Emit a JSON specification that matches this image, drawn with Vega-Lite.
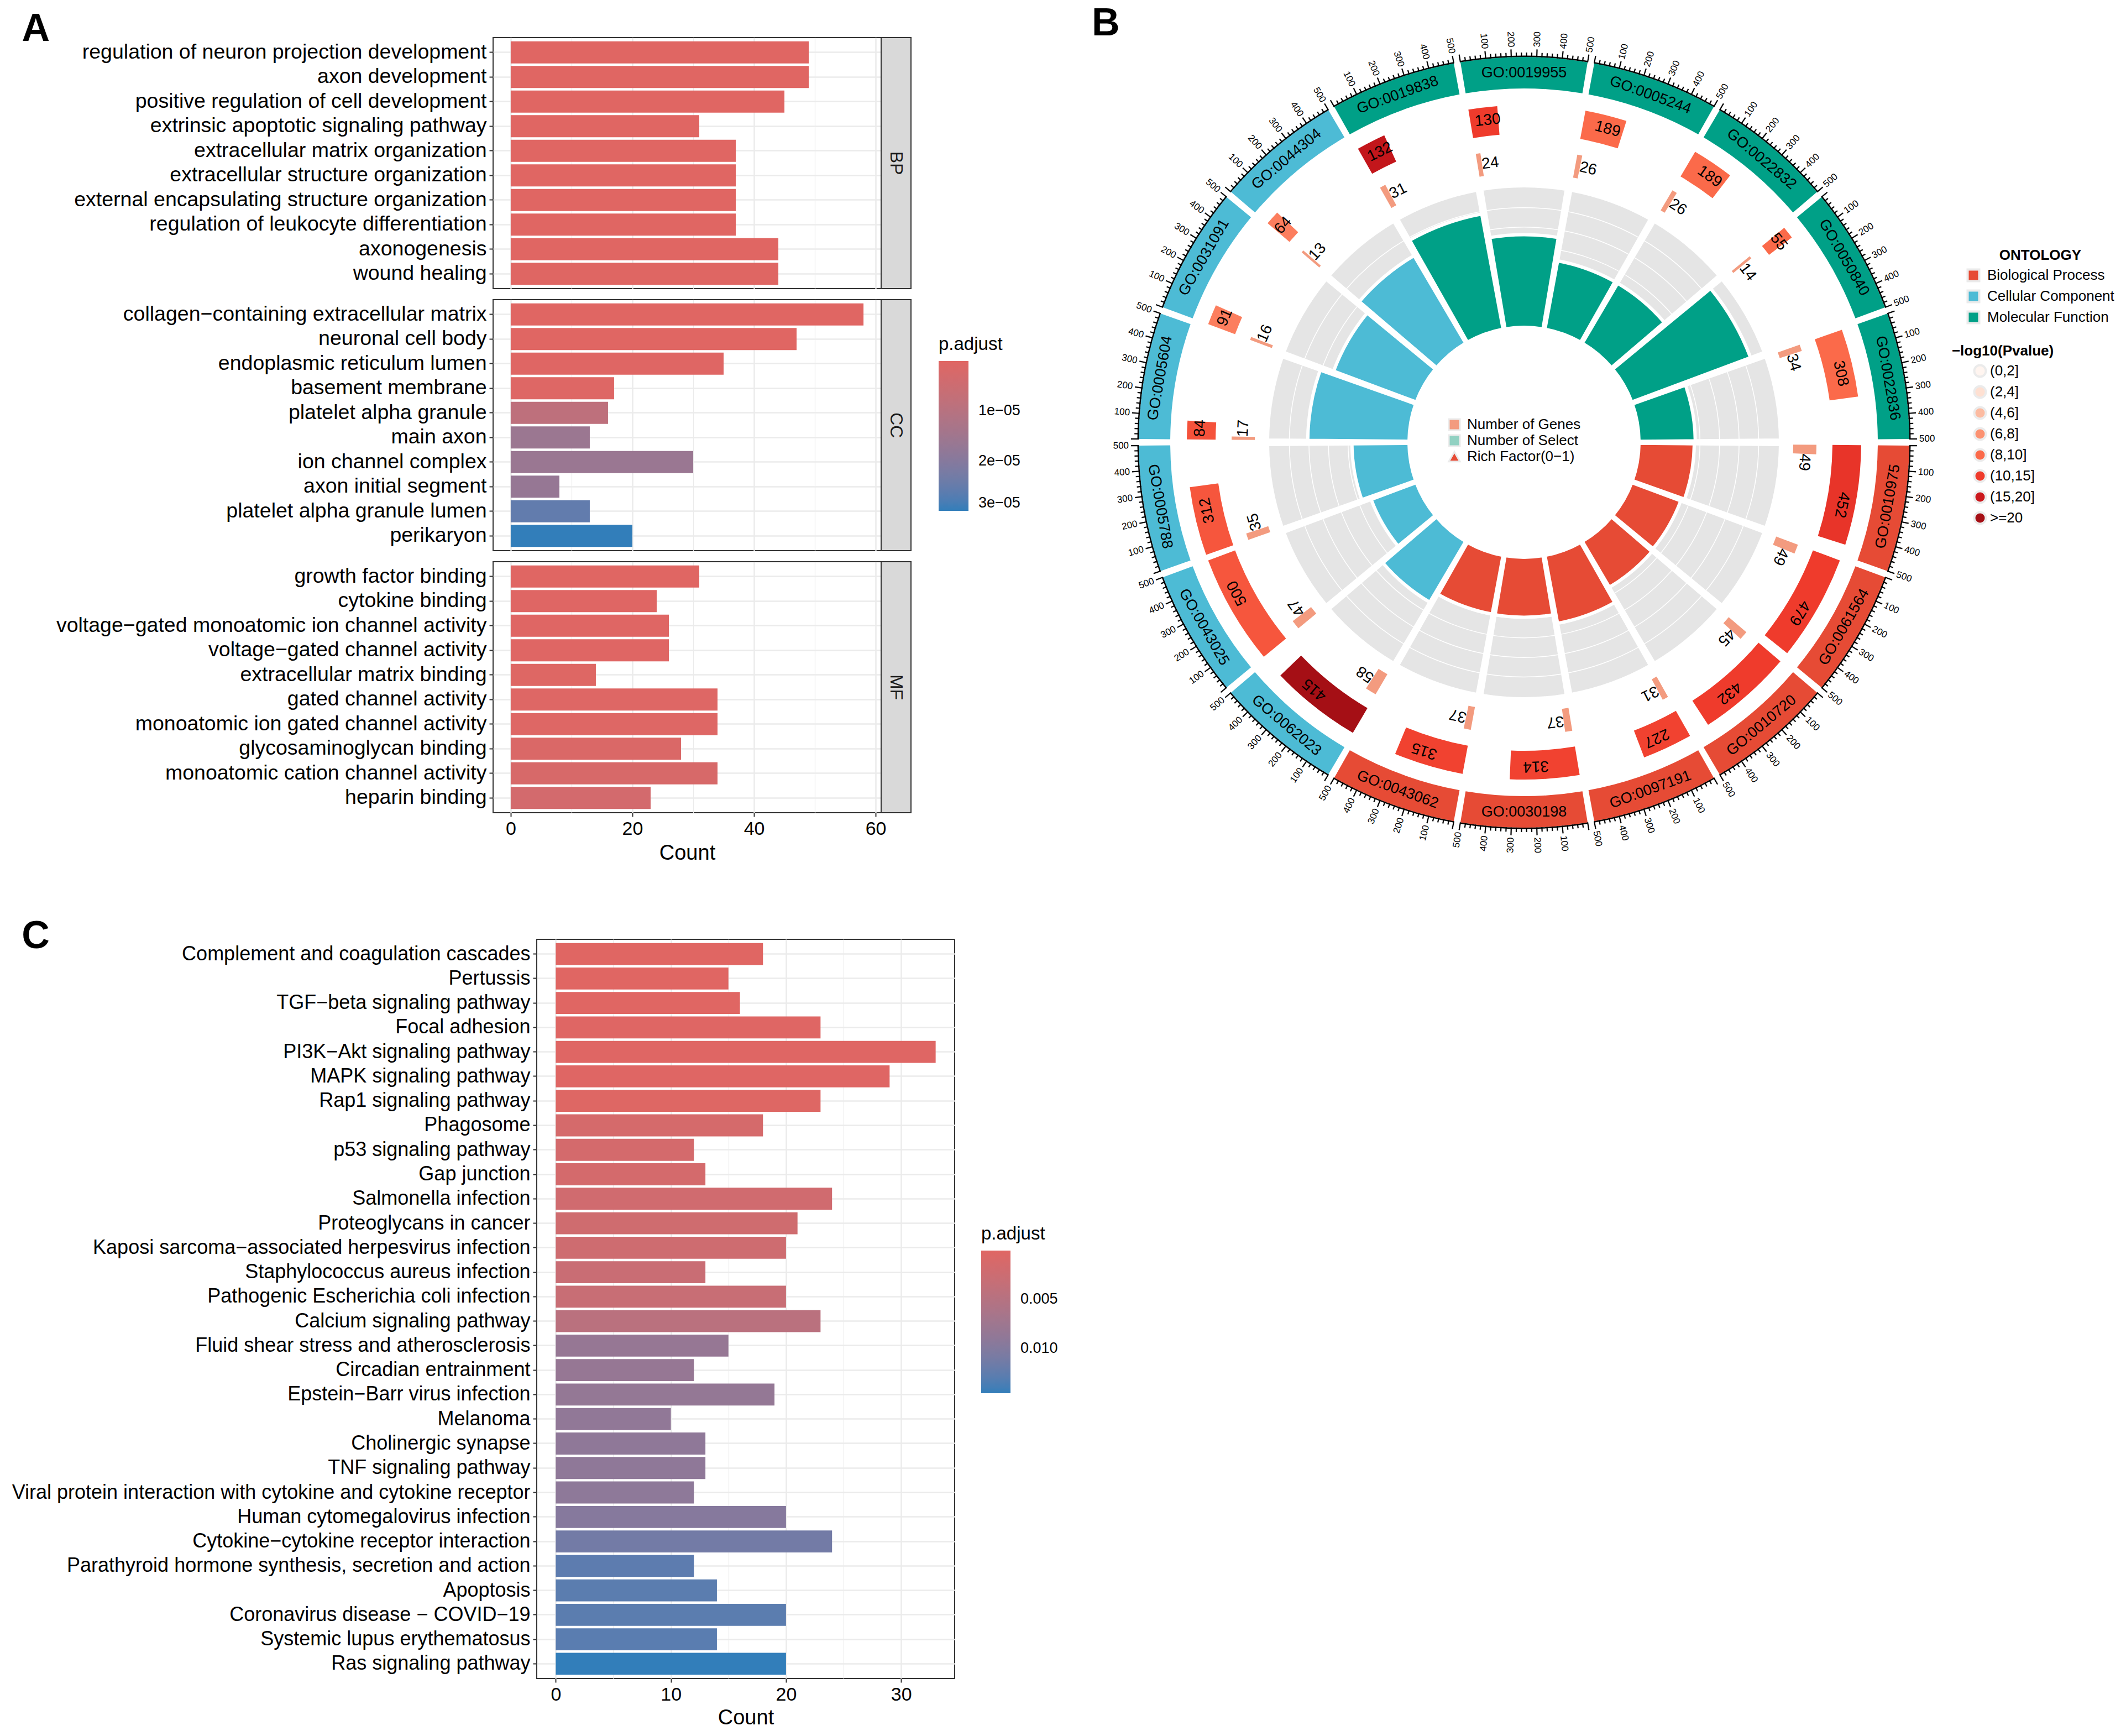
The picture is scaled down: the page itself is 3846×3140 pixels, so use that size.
{
"$schema": "https://vega.github.io/schema/vega-lite/v6.json",
"background": "white",
"padding": {"left": 20, "top": 7, "right": 5, "bottom": 5},
"config": {
 "font": "Liberation Sans",
 "view": {"stroke": null},
 "axis": {"labelColor": "#000000", "titleColor": "#000000", "tickColor": "#333333", "gridColor": "#EBEBEB", "domain": false},
 "legend": {"labelColor": "#000000", "titleColor": "#000000", "labelLimit": 1000, "titleLimit": 1000},
 "title": {"color": "#000000"}
},
"datasets": {
 "bp": [
  {"term":"regulation of neuron projection development","count":49,"p":1e-10},
  {"term":"axon development","count":49,"p":2e-10},
  {"term":"positive regulation of cell development","count":45,"p":5e-9},
  {"term":"extrinsic apoptotic signaling pathway","count":31,"p":1e-8},
  {"term":"extracellular matrix organization","count":37,"p":2e-8},
  {"term":"extracellular structure organization","count":37,"p":2e-8},
  {"term":"external encapsulating structure organization","count":37,"p":2e-8},
  {"term":"regulation of leukocyte differentiation","count":37,"p":1e-7},
  {"term":"axonogenesis","count":44,"p":1.2e-7},
  {"term":"wound healing","count":44,"p":1.5e-7}
 ],
 "cc": [
  {"term":"collagen−containing extracellular matrix","count":58,"p":1e-12},
  {"term":"neuronal cell body","count":47,"p":5e-9},
  {"term":"endoplasmic reticulum lumen","count":35,"p":3e-7},
  {"term":"basement membrane","count":17,"p":6e-7},
  {"term":"platelet alpha granule","count":16,"p":8.5e-6},
  {"term":"main axon","count":13,"p":1.6e-5},
  {"term":"ion channel complex","count":30,"p":1.62e-5},
  {"term":"axon initial segment","count":8,"p":1.7e-5},
  {"term":"platelet alpha granule lumen","count":13,"p":2.55e-5},
  {"term":"perikaryon","count":20,"p":3.0e-5}
 ],
 "mf": [
  {"term":"growth factor binding","count":31,"p":1e-7},
  {"term":"cytokine binding","count":24,"p":2e-7},
  {"term":"voltage−gated monoatomic ion channel activity","count":26,"p":3e-7},
  {"term":"voltage−gated channel activity","count":26,"p":3e-7},
  {"term":"extracellular matrix binding","count":14,"p":5e-7},
  {"term":"gated channel activity","count":34,"p":6e-7},
  {"term":"monoatomic ion gated channel activity","count":34,"p":6e-7},
  {"term":"glycosaminoglycan binding","count":28,"p":1.5e-6},
  {"term":"monoatomic cation channel activity","count":34,"p":2.2e-6},
  {"term":"heparin binding","count":23,"p":3.3e-6}
 ],
 "kegg": [
  {"term":"Complement and coagulation cascades","count":18,"p":0.00002},
  {"term":"Pertussis","count":15,"p":0.00004},
  {"term":"TGF−beta signaling pathway","count":16,"p":0.00008},
  {"term":"Focal adhesion","count":23,"p":0.00012},
  {"term":"PI3K−Akt signaling pathway","count":33,"p":0.00015},
  {"term":"MAPK signaling pathway","count":29,"p":0.00018},
  {"term":"Rap1 signaling pathway","count":23,"p":0.00022},
  {"term":"Phagosome","count":18,"p":0.0014},
  {"term":"p53 signaling pathway","count":12,"p":0.0015},
  {"term":"Gap junction","count":13,"p":0.0015},
  {"term":"Salmonella infection","count":24,"p":0.0020},
  {"term":"Proteoglycans in cancer","count":21,"p":0.0021},
  {"term":"Kaposi sarcoma−associated herpesvirus infection","count":20,"p":0.0022},
  {"term":"Staphylococcus aureus infection","count":13,"p":0.0028},
  {"term":"Pathogenic Escherichia coli infection","count":20,"p":0.0030},
  {"term":"Calcium signaling pathway","count":23,"p":0.0046},
  {"term":"Fluid shear stress and atherosclerosis","count":15,"p":0.0083},
  {"term":"Circadian entrainment","count":12,"p":0.0083},
  {"term":"Epstein−Barr virus infection","count":19,"p":0.0085},
  {"term":"Melanoma","count":10,"p":0.0088},
  {"term":"Cholinergic synapse","count":13,"p":0.0090},
  {"term":"TNF signaling pathway","count":13,"p":0.0090},
  {"term":"Viral protein interaction with cytokine and cytokine receptor","count":12,"p":0.0091},
  {"term":"Human cytomegalovirus infection","count":20,"p":0.0098},
  {"term":"Cytokine−cytokine receptor interaction","count":24,"p":0.0113},
  {"term":"Parathyroid hormone synthesis, secretion and action","count":12,"p":0.0127},
  {"term":"Apoptosis","count":14,"p":0.0128},
  {"term":"Coronavirus disease − COVID−19","count":20,"p":0.0128},
  {"term":"Systemic lupus erythematosus","count":14,"p":0.0129},
  {"term":"Ras signaling pathway","count":20,"p":0.0146}
 ],
 "go": [
  {"i":0,"id":"GO:0019955","ont":"Molecular Function","genes":130,"sel":24,"lp":12.5},
  {"i":1,"id":"GO:0005244","ont":"Molecular Function","genes":189,"sel":26,"lp":9},
  {"i":2,"id":"GO:0022832","ont":"Molecular Function","genes":189,"sel":26,"lp":9},
  {"i":3,"id":"GO:0050840","ont":"Molecular Function","genes":55,"sel":14,"lp":9},
  {"i":4,"id":"GO:0022836","ont":"Molecular Function","genes":308,"sel":34,"lp":9},
  {"i":5,"id":"GO:0010975","ont":"Biological Process","genes":452,"sel":49,"lp":13.5},
  {"i":6,"id":"GO:0061564","ont":"Biological Process","genes":479,"sel":49,"lp":12.5},
  {"i":7,"id":"GO:0010720","ont":"Biological Process","genes":432,"sel":45,"lp":12.5},
  {"i":8,"id":"GO:0097191","ont":"Biological Process","genes":227,"sel":31,"lp":12},
  {"i":9,"id":"GO:0030198","ont":"Biological Process","genes":314,"sel":37,"lp":12},
  {"i":10,"id":"GO:0043062","ont":"Biological Process","genes":315,"sel":37,"lp":12},
  {"i":11,"id":"GO:0062023","ont":"Cellular Component","genes":415,"sel":58,"lp":22},
  {"i":12,"id":"GO:0043025","ont":"Cellular Component","genes":500,"sel":47,"lp":10.5},
  {"i":13,"id":"GO:0005788","ont":"Cellular Component","genes":312,"sel":35,"lp":10.5},
  {"i":14,"id":"GO:0005604","ont":"Cellular Component","genes":84,"sel":17,"lp":10.8},
  {"i":15,"id":"GO:0031091","ont":"Cellular Component","genes":91,"sel":16,"lp":8},
  {"i":16,"id":"GO:0044304","ont":"Cellular Component","genes":64,"sel":13,"lp":8},
  {"i":17,"id":"GO:0019838","ont":"Molecular Function","genes":132,"sel":31,"lp":18.5}
 ],
 "tickset": [{"k":1,"tk":[0,20,40,60,80,100,120,140,160,180,200,220,240,260,280,300,320,340,360,380,400,420,440,460,480,500]}]
},
"concat": [
 {
  "title": {"text": "A", "anchor": "start", "frame": "bounds", "dx": -61, "offset": -77, "fontSize": 70, "fontWeight": "bold", "baseline": "alphabetic"},
  "concat": [
   {"hconcat": [
     {"width": 702, "height": 454, "view": {"stroke": "#333333", "strokeWidth": 2},
      "data": {"name": "bp"}, "transform": [{"calculate": "-datum.p", "as": "np"}],
      "layer": [
       {"mark": "bar", "encoding": {
         "y": {"field": "term", "type": "nominal", "sort": null, "scale": {"paddingInner": 0.1, "paddingOuter": 0.15},
               "axis": {"title": null, "grid": true, "gridWidth": 2.5, "tickSize": 7, "tickWidth": 2, "labelPadding": 5, "labelFontSize": 37.5, "labelLimit": 2000, "domain": false}},
         "x": {"field": "count", "type": "quantitative", "scale": {"domain": [-2.9, 60.9], "nice": false, "zero": false},
               "axis": {"title": null, "values": [0,20,40,60], "grid": true, "gridWidth": 2.5, "labels": false, "ticks": false, "domain": false}},
         "x2": {"datum": 0},
         "color": {"field": "np", "type": "quantitative", "scale": {"domain": [-3.0e-5, 0], "range": ["#327eba", "#e06663"], "interpolate": "lab", "nice": false, "zero": false},
                   "legend": {"orient": "none", "legendX": 806, "legendY": 539, "title": "p.adjust", "direction": "vertical", "gradientLength": 271, "gradientThickness": 54, "values": [-3e-5, -2e-5, -1e-5], "labelExpr": "round(-datum.value*100000)+'e−05'", "titleFontSize": 33, "titleFontWeight": "normal", "titlePadding": 13, "labelFontSize": 27, "labelOffset": 18, "gradientStrokeWidth": 0}}
       }},
       {"mark": {"type": "point", "opacity": 0}, "encoding": {
         "y": {"field": "term", "type": "nominal", "sort": null},
         "x": {"field": "count", "type": "quantitative", "axis": {"orient": "top", "title": null, "values": [10,30,50], "grid": true, "gridWidth": 1.2, "labels": false, "ticks": false, "domain": false}}
       }}
      ],
      "resolve": {"axis": {"x": "independent"}}
     },
     {"width": 54, "height": 454, "view": {"fill": "#D9D9D9", "stroke": "#333333", "strokeWidth": 2},
      "data": {"values": [{"s": "BP"}]},
      "mark": {"type": "text", "angle": 90, "fontSize": 32, "color": "#1A1A1A"},
      "encoding": {"text": {"field": "s", "type": "nominal"}}}
    ], "spacing": 0, "bounds": "flush"},
   {"hconcat": [
     {"width": 702, "height": 454, "view": {"stroke": "#333333", "strokeWidth": 2},
      "data": {"name": "cc"}, "transform": [{"calculate": "-datum.p", "as": "np"}],
      "layer": [
       {"mark": "bar", "encoding": {
         "y": {"field": "term", "type": "nominal", "sort": null, "scale": {"paddingInner": 0.1, "paddingOuter": 0.15},
               "axis": {"title": null, "grid": true, "gridWidth": 2.5, "tickSize": 7, "tickWidth": 2, "labelPadding": 5, "labelFontSize": 37.5, "labelLimit": 2000, "domain": false}},
         "x": {"field": "count", "type": "quantitative", "scale": {"domain": [-2.9, 60.9], "nice": false, "zero": false},
               "axis": {"title": null, "values": [0,20,40,60], "grid": true, "gridWidth": 2.5, "labels": false, "ticks": false, "domain": false}},
         "x2": {"datum": 0},
         "color": {"field": "np", "type": "quantitative", "scale": {"domain": [-3.0e-5, 0], "range": ["#327eba", "#e06663"], "interpolate": "lab", "nice": false, "zero": false},
                   "legend": {"orient": "none", "legendX": 806, "legendY": 539, "title": "p.adjust", "direction": "vertical", "gradientLength": 271, "gradientThickness": 54, "values": [-3e-5, -2e-5, -1e-5], "labelExpr": "round(-datum.value*100000)+'e−05'", "titleFontSize": 33, "titleFontWeight": "normal", "titlePadding": 13, "labelFontSize": 27, "labelOffset": 18, "gradientStrokeWidth": 0}}
       }},
       {"mark": {"type": "point", "opacity": 0}, "encoding": {
         "y": {"field": "term", "type": "nominal", "sort": null},
         "x": {"field": "count", "type": "quantitative", "axis": {"orient": "top", "title": null, "values": [10,30,50], "grid": true, "gridWidth": 1.2, "labels": false, "ticks": false, "domain": false}}
       }}
      ],
      "resolve": {"axis": {"x": "independent"}}
     },
     {"width": 54, "height": 454, "view": {"fill": "#D9D9D9", "stroke": "#333333", "strokeWidth": 2},
      "data": {"values": [{"s": "CC"}]},
      "mark": {"type": "text", "angle": 90, "fontSize": 32, "color": "#1A1A1A"},
      "encoding": {"text": {"field": "s", "type": "nominal"}}}
    ], "spacing": 0, "bounds": "flush"},
   {"hconcat": [
     {"width": 702, "height": 454, "view": {"stroke": "#333333", "strokeWidth": 2},
      "data": {"name": "mf"}, "transform": [{"calculate": "-datum.p", "as": "np"}],
      "layer": [
       {"mark": "bar", "encoding": {
         "y": {"field": "term", "type": "nominal", "sort": null, "scale": {"paddingInner": 0.1, "paddingOuter": 0.15},
               "axis": {"title": null, "grid": true, "gridWidth": 2.5, "tickSize": 7, "tickWidth": 2, "labelPadding": 5, "labelFontSize": 37.5, "labelLimit": 2000, "domain": false}},
         "x": {"field": "count", "type": "quantitative", "scale": {"domain": [-2.9, 60.9], "nice": false, "zero": false},
               "axis": {"title": "Count", "values": [0,20,40,60], "grid": true, "gridWidth": 2.5, "tickSize": 7, "tickWidth": 2, "labelPadding": 5, "labelFontSize": 34, "labelFlush": false, "titleFontSize": 38, "titleFontWeight": "normal", "titlePadding": 8, "domain": false}},
         "x2": {"datum": 0},
         "color": {"field": "np", "type": "quantitative", "scale": {"domain": [-3.0e-5, 0], "range": ["#327eba", "#e06663"], "interpolate": "lab", "nice": false, "zero": false},
                   "legend": {"orient": "none", "legendX": 806, "legendY": 539, "title": "p.adjust", "direction": "vertical", "gradientLength": 271, "gradientThickness": 54, "values": [-3e-5, -2e-5, -1e-5], "labelExpr": "round(-datum.value*100000)+'e−05'", "titleFontSize": 33, "titleFontWeight": "normal", "titlePadding": 13, "labelFontSize": 27, "labelOffset": 18, "gradientStrokeWidth": 0}}
       }},
       {"mark": {"type": "point", "opacity": 0}, "encoding": {
         "y": {"field": "term", "type": "nominal", "sort": null},
         "x": {"field": "count", "type": "quantitative", "axis": {"orient": "top", "title": null, "values": [10,30,50], "grid": true, "gridWidth": 1.2, "labels": false, "ticks": false, "domain": false}}
       }}
      ],
      "resolve": {"axis": {"x": "independent"}}
     },
     {"width": 54, "height": 454, "view": {"fill": "#D9D9D9", "stroke": "#333333", "strokeWidth": 2},
      "data": {"values": [{"s": "MF"}]},
      "mark": {"type": "text", "angle": 90, "fontSize": 32, "color": "#1A1A1A"},
      "encoding": {"text": {"field": "s", "type": "nominal"}}}
    ], "spacing": 0, "bounds": "flush"}
  ],
  "columns": 1, "align": "each", "spacing": 18
 },
 {
  "width": 1420, "height": 1464,
  "view": {"stroke": null},
  "title": {"text": "B", "anchor": "start", "frame": "group", "dx": -72, "offset": -77, "fontSize": 70, "fontWeight": "bold", "baseline": "alphabetic"},
  "data": {"name": "go"},
  "transform": [
   {"calculate": "datum.i*20-9.5", "as": "st"},
   {"calculate": "datum.i*20+9.5", "as": "en"},
   {"calculate": "datum.st+datum.genes*0.038", "as": "ge"},
   {"calculate": "datum.st+datum.sel*0.038", "as": "se"},
   {"calculate": "datum.sel/datum.genes", "as": "rf"},
   {"calculate": "datum.st+datum.genes*0.038*0.62", "as": "gl"},
   {"calculate": "datum.se+1.7", "as": "sl"},
   {"calculate": "datum.i*20", "as": "mid"},
   {"calculate": "datum.mid>90&&datum.mid<270?datum.mid-180:(datum.mid>=270?datum.mid-360:datum.mid)", "as": "ga"},
   {"calculate": "1", "as": "k"}
  ],
  "layer": [
   {"mark": {"type": "arc", "radius": 464, "radius2": 208, "color": "#E5E5E5", "stroke": "white", "strokeWidth": 6},
    "encoding": {"theta": {"field": "st", "type": "quantitative", "stack": null, "scale": {"domain": [0, 360], "range": [0, 6.283185307179586], "nice": false, "zero": false}}, "theta2": {"field": "en"}}},
   {"data": {"values": [{"lv": 0.04}, {"lv": 0.08}, {"lv": 0.12}, {"lv": 0.16}, {"lv": 0.2}, {"lv": 0.24}]},
    "mark": {"type": "arc", "theta": 0, "theta2": 6.2832, "filled": false, "stroke": "white", "strokeWidth": 1.5},
    "encoding": {"radius": {"field": "lv", "type": "quantitative", "scale": {"type": "linear", "domain": [0, 0.28], "range": [212, 460], "zero": false, "nice": false}}, "radius2": {"field": "lv"}}},
   {"mark": {"type": "arc", "radius2": 208, "stroke": "white", "strokeWidth": 6},
    "encoding": {"theta": {"field": "st", "type": "quantitative", "stack": null, "scale": {"domain": [0, 360], "range": [0, 6.283185307179586], "nice": false, "zero": false}}, "theta2": {"field": "en"},
     "radius": {"field": "rf", "type": "quantitative", "scale": {"type": "linear", "domain": [0, 0.28], "range": [212, 460], "zero": false, "nice": false}},
     "color": {"field": "ont", "type": "nominal", "scale": {"domain": ["Biological Process", "Cellular Component", "Molecular Function"], "range": ["#E64B35", "#4DBBD5", "#00A087"]},
       "legend": {"title": "ONTOLOGY", "orient": "none", "legendX": 1510, "legendY": 381, "titleAnchor": "middle", "titleFontWeight": "bold", "titleFontSize": 26, "labelFontSize": 26, "symbolType": "square", "symbolSize": 441, "rowPadding": 0, "labelOffset": 12, "titlePadding": 10, "encode": {"symbols": {"update": {"stroke": {"value": "#EBEBEB"}, "strokeWidth": {"value": 4}, "opacity": {"value": 1}}}}}}}},
   {"mark": {"type": "arc", "radius": 610, "radius2": 558},
    "encoding": {"theta": {"field": "st", "type": "quantitative", "stack": null, "scale": {"domain": [0, 360], "range": [0, 6.283185307179586], "nice": false, "zero": false}}, "theta2": {"field": "ge"},
     "fill": {"field": "lp", "type": "quantitative", "scale": {"type": "linear", "domain": [1, 3, 5, 7, 9, 12.5, 17.5, 22], "range": ["#FFF5F0", "#FEE0D2", "#FCBBA1", "#FC9272", "#FB6A4A", "#EF3B2C", "#CB181D", "#A50F15"], "interpolate": "rgb", "zero": false, "nice": false},
       "legend": {"type": "symbol", "title": "−log10(Pvalue)", "values": [1, 3, 5, 7, 9, 12.5, 17.5, 22], "labelExpr": "datum.value<2?'(0,2]':datum.value<4?'(2,4]':datum.value<6?'(4,6]':datum.value<8?'(6,8]':datum.value<10?'(8,10]':datum.value<15?'(10,15]':datum.value<20?'(15,20]':'>=20'", "orient": "none", "legendX": 1484, "legendY": 554, "symbolOffset": 3, "titleAnchor": "middle", "titleFontWeight": "bold", "titleFontSize": 26, "labelFontSize": 26, "symbolType": "circle", "symbolSize": 441, "rowPadding": 0, "labelOffset": 5, "titlePadding": 10, "encode": {"symbols": {"update": {"stroke": {"value": "#EBEBEB"}, "strokeWidth": {"value": 4}, "opacity": {"value": 1}}}}}}}},
   {"mark": {"type": "arc", "radius": 529, "radius2": 487, "color": "#F39B7F"},
    "encoding": {"theta": {"field": "st", "type": "quantitative", "stack": null, "scale": {"domain": [0, 360], "range": [0, 6.283185307179586], "nice": false, "zero": false}}, "theta2": {"field": "se"}}},
   {"mark": {"type": "arc", "radius": 697, "radius2": 640},
    "encoding": {"theta": {"field": "st", "type": "quantitative", "stack": null, "scale": {"domain": [0, 360], "range": [0, 6.283185307179586], "nice": false, "zero": false}}, "theta2": {"field": "en"},
     "color": {"field": "ont", "type": "nominal", "scale": {"domain": ["Biological Process", "Cellular Component", "Molecular Function"], "range": ["#E64B35", "#4DBBD5", "#00A087"]},
       "legend": {"title": "ONTOLOGY", "orient": "none", "legendX": 1510, "legendY": 381, "titleAnchor": "middle", "titleFontWeight": "bold", "titleFontSize": 26, "labelFontSize": 26, "symbolType": "square", "symbolSize": 441, "rowPadding": 0, "labelOffset": 12, "titlePadding": 10, "encode": {"symbols": {"update": {"stroke": {"value": "#EBEBEB"}, "strokeWidth": {"value": 4}, "opacity": {"value": 1}}}}}}}},
   {"mark": {"type": "arc", "radius": 699.5, "radius2": 697, "color": "#000000"},
    "encoding": {"theta": {"field": "st", "type": "quantitative", "stack": null, "scale": {"domain": [0, 360], "range": [0, 6.283185307179586], "nice": false, "zero": false}}, "theta2": {"field": "en"}}},
   {"transform": [
     {"lookup": "k", "from": {"data": {"name": "tickset"}, "key": "k", "fields": ["tk"]}},
     {"flatten": ["tk"]},
     {"calculate": "datum.st+datum.tk*0.038", "as": "ta"},
     {"calculate": "datum.ta-0.09", "as": "ta1"},
     {"calculate": "datum.ta+0.09", "as": "ta2"},
     {"calculate": "(datum.ta+360)%360", "as": "tn"}
    ],
    "layer": [
     {"transform": [{"filter": "datum.tk%100!==0"}],
      "mark": {"type": "arc", "radius": 705, "radius2": 697, "color": "#000000"},
      "encoding": {"theta": {"field": "ta1", "type": "quantitative", "stack": null, "scale": {"domain": [0, 360], "range": [0, 6.283185307179586], "nice": false, "zero": false}}, "theta2": {"field": "ta2"}}},
     {"transform": [{"filter": "datum.tk%100===0"}],
      "mark": {"type": "arc", "radius": 711, "radius2": 697, "color": "#000000"},
      "encoding": {"theta": {"field": "ta1", "type": "quantitative", "stack": null, "scale": {"domain": [0, 360], "range": [0, 6.283185307179586], "nice": false, "zero": false}}, "theta2": {"field": "ta2"}}},
     {"transform": [{"filter": "datum.tk>0&&datum.tk%100===0&&datum.tn<180"}, {"calculate": "datum.tn-90", "as": "tr"}],
      "mark": {"type": "text", "radius": 715, "align": "left", "baseline": "middle", "fontSize": 17, "color": "#000000"},
      "encoding": {"theta": {"field": "ta", "type": "quantitative", "stack": null, "scale": {"domain": [0, 360], "range": [0, 6.283185307179586], "nice": false, "zero": false}},
       "text": {"field": "tk", "type": "quantitative"}, "angle": {"field": "tr", "type": "quantitative", "scale": null}}},
     {"transform": [{"filter": "datum.tk>0&&datum.tk%100===0&&datum.tn>=180"}, {"calculate": "datum.tn-270", "as": "tr"}],
      "mark": {"type": "text", "radius": 715, "align": "right", "baseline": "middle", "fontSize": 17, "color": "#000000"},
      "encoding": {"theta": {"field": "ta", "type": "quantitative", "stack": null, "scale": {"domain": [0, 360], "range": [0, 6.283185307179586], "nice": false, "zero": false}},
       "text": {"field": "tk", "type": "quantitative"}, "angle": {"field": "tr", "type": "quantitative", "scale": null}}}
    ]},
   {"mark": {"type": "text", "radius": 668.5, "fontSize": 27, "baseline": "middle", "align": "center", "color": "#000000"},
    "encoding": {"theta": {"field": "mid", "type": "quantitative", "stack": null, "scale": {"domain": [0, 360], "range": [0, 6.283185307179586], "nice": false, "zero": false}},
     "text": {"field": "id", "type": "nominal"}, "angle": {"field": "ga", "type": "quantitative", "scale": null}}},
   {"mark": {"type": "text", "radius": 586, "fontSize": 28, "baseline": "middle", "align": "center", "color": "#000000"},
    "encoding": {"theta": {"field": "gl", "type": "quantitative", "stack": null, "scale": {"domain": [0, 360], "range": [0, 6.283185307179586], "nice": false, "zero": false}},
     "text": {"field": "genes", "type": "quantitative"}, "angle": {"field": "gl", "type": "quantitative", "scale": null}}},
   {"mark": {"type": "text", "radius": 508, "fontSize": 28, "baseline": "middle", "align": "center", "color": "#000000"},
    "encoding": {"theta": {"field": "sl", "type": "quantitative", "stack": null, "scale": {"domain": [0, 360], "range": [0, 6.283185307179586], "nice": false, "zero": false}},
     "text": {"field": "sel", "type": "quantitative"}, "angle": {"field": "sl", "type": "quantitative", "scale": null}}},
   {"data": {"values": [{"item": "Number of Genes"}, {"item": "Number of Select"}, {"item": "Rich Factor(0−1)"}]},
    "mark": {"type": "point", "filled": true, "opacity": 0},
    "encoding": {
     "fill": {"field": "item", "type": "nominal", "scale": {"domain": ["Number of Genes", "Number of Select", "Rich Factor(0−1)"], "range": ["#F39B7F", "#91D1C2", "#E64B35"]},
       "legend": {"title": null, "orient": "none", "legendX": 571, "legendY": 687, "labelFontSize": 26, "symbolSize": 400, "rowPadding": -3, "labelOffset": 10, "encode": {"symbols": {"update": {"stroke": {"value": "#EBEBEB"}, "strokeWidth": {"value": 3}, "opacity": {"value": 1}}}}}},
     "shape": {"field": "item", "type": "nominal", "scale": {"domain": ["Number of Genes", "Number of Select", "Rich Factor(0−1)"], "range": ["square", "square", "triangle-up"]},
       "legend": {"title": null, "orient": "none", "legendX": 571, "legendY": 687, "labelFontSize": 26, "symbolSize": 400, "rowPadding": -3, "labelOffset": 10, "encode": {"symbols": {"update": {"stroke": {"value": "#EBEBEB"}, "strokeWidth": {"value": 3}, "opacity": {"value": 1}}}}}}
    }}
  ],
  "resolve": {"scale": {"fill": "independent", "shape": "independent"}}
 },
 {
  "hconcat": [
   {"width": 79, "height": 1, "data": {"values": []}, "mark": "point"},
   {
    "width": 756, "height": 1337,
    "view": {"stroke": "#333333", "strokeWidth": 2},
    "title": {"text": "C", "anchor": "start", "frame": "bounds", "dx": 18, "offset": -86, "fontSize": 70, "fontWeight": "bold", "baseline": "alphabetic"},
    "data": {"name": "kegg"}, "transform": [{"calculate": "-datum.p", "as": "np"}],
    "layer": [
     {"mark": "bar", "encoding": {
       "y": {"field": "term", "type": "nominal", "sort": null, "scale": {"paddingInner": 0.1, "paddingOuter": 0.15},
             "axis": {"title": null, "grid": true, "gridWidth": 2.5, "tickSize": 7, "tickWidth": 2, "labelPadding": 5, "labelFontSize": 36, "labelLimit": 2000, "domain": false}},
       "x": {"field": "count", "type": "quantitative", "scale": {"domain": [-1.65, 34.65], "nice": false, "zero": false},
             "axis": {"title": "Count", "values": [0,10,20,30], "grid": true, "gridWidth": 2.5, "tickSize": 7, "tickWidth": 2, "labelPadding": 5, "labelFontSize": 34, "labelFlush": false, "titleFontSize": 38, "titleFontWeight": "normal", "titlePadding": 6, "domain": false}},
       "x2": {"datum": 0},
       "color": {"field": "np", "type": "quantitative", "scale": {"domain": [-0.0146, -0.00002], "range": ["#327eba", "#e06663"], "interpolate": "lab", "nice": false, "zero": false},
                 "legend": {"orient": "none", "legendX": 804, "legendY": 517, "title": "p.adjust", "direction": "vertical", "gradientLength": 258, "gradientThickness": 53, "values": [-0.01, -0.005], "labelExpr": "format(-datum.value,'.3f')", "titleFontSize": 33, "titleFontWeight": "normal", "titlePadding": 13, "labelFontSize": 27, "labelOffset": 18, "gradientStrokeWidth": 0}}
     }},
     {"mark": {"type": "point", "opacity": 0}, "encoding": {
       "y": {"field": "term", "type": "nominal", "sort": null},
       "x": {"field": "count", "type": "quantitative", "axis": {"orient": "top", "title": null, "values": [5,15,25], "grid": true, "gridWidth": 1.2, "labels": false, "ticks": false, "domain": false}}
     }}
    ],
    "resolve": {"axis": {"x": "independent"}}
   }
  ],
  "spacing": 0, "bounds": "flush",
  "resolve": {"scale": {"color": "independent"}}
 }
],
"columns": 2,
"align": "none",
"spacing": {"row": 95, "column": 60},
"resolve": {"scale": {"color": "independent", "fill": "independent", "shape": "independent"}}
}
